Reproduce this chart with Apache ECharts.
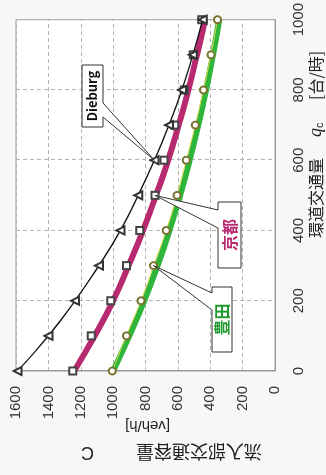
<!DOCTYPE html>
<html>
<head>
<meta charset="utf-8">
<script src="https://cdn.jsdelivr.net/npm/echarts@6/dist/echarts.min.js"></script>
<style>
  html, body { margin: 0; padding: 0; background: #f7f7f5; overflow: hidden; }
  /* the chart is laid out landscape and turned a quarter turn to stand upright */
  #chart {
    position: absolute; left: 0; top: 0;
    width: 475px; height: 326px;
    transform-origin: 0 0;
    transform: translate(0px, 475px) rotate(-90deg);
  }
</style>
</head>
<body>
<div id="chart"></div>
<script>
// circulating flow qc [veh/h]
const qc = [0, 100, 200, 300, 400, 500, 600, 700, 800, 900, 1000];
// entry capacity C [veh/h]
const dieburg    = [1590, 1400, 1235, 1088, 955, 845, 745, 655, 575, 508, 447];
const kyotoCurve = [1240, 1115, 1000, 905, 815, 735, 660, 595, 535, 482, 432];
const kyotoPts   = [1250, 1135, 1015, 918, 835, 742, 685, 620, 560, 505, 452];
const toyotaCurve = [1000, 900, 808, 726, 652, 586, 527, 474, 426, 383, 344];
const toyotaPts   = [1005, 918, 828, 750, 672, 605, 548, 492, 442, 396, 355];
// axis ticks
const xTicks = [0, 200, 400, 600, 800, 1000];
const yTicks = [0, 200, 400, 600, 800, 1000, 1200, 1400, 1600];

const pairs = arr => qc.map((q, i) => [q, arr[i]]);

const chart = echarts.init(document.getElementById('chart'), null, { renderer: 'canvas' });

const labelFont = { fontFamily: 'Liberation Sans, Arial, sans-serif', fontSize: 15, color: '#333', formatter: v => String(v) };
const gridLine = { show: true, lineStyle: { color: '#b4b4b4', type: [4, 3], width: 1 } };

const option = {
  animation: false,
  backgroundColor: '#f7f7f5',
  grid: { left: 104, right: 17, top: 16, bottom: 51, show: true, backgroundColor: '#fff', borderColor: '#9a9a9a', borderWidth: 1 },
  xAxis: {
    type: 'value', min: xTicks[0], max: xTicks[xTicks.length - 1], interval: 200,
    axisLine: { show: true, lineStyle: { color: '#9a9a9a' } },
    axisTick: { show: false },
    axisLabel: Object.assign({ margin: 16 }, labelFont),
    splitLine: gridLine
  },
  yAxis: {
    type: 'value', min: yTicks[0], max: yTicks[yTicks.length - 1], interval: 200,
    axisLine: { show: true, lineStyle: { color: '#9a9a9a' } },
    axisTick: { show: false },
    axisLabel: Object.assign({ margin: 15 }, labelFont),
    splitLine: gridLine
  },
  series: [
    {
      name: 'Dieburg', type: 'line', smooth: true, data: pairs(dieburg), z: 5,
      symbol: 'emptyTriangle', symbolSize: 8,
      itemStyle: { color: '#333', borderWidth: 0.8 },
      lineStyle: { color: '#111', width: 1.3 }
    },
    {
      name: '京都', type: 'line', smooth: true, data: pairs(kyotoCurve), z: 3,
      symbol: 'none', lineStyle: { color: '#b82a70', width: 6 }
    },
    {
      name: '京都 観測', type: 'line', data: pairs(kyotoPts), z: 4,
      symbol: 'emptyRect', symbolSize: 7,
      itemStyle: { color: '#444', borderWidth: 0.8 },
      lineStyle: { width: 0, opacity: 0 }
    },
    {
      name: '豊田', type: 'line', smooth: true, data: pairs(toyotaCurve), z: 3,
      symbol: 'none', lineStyle: { color: '#2eb63c', width: 6 }
    },
    {
      name: '豊田 観測', type: 'line', smooth: true, data: pairs(toyotaPts), z: 4,
      symbol: 'emptyCircle', symbolSize: 7,
      itemStyle: { color: '#7a7430', borderWidth: 0.8 },
      lineStyle: { color: '#e0d84a', width: 1 }
    }
  ]
};
chart.setOption(option);

// callout shape: box with a pointer wedge ending at a data point
function callout(box, baseSide, baseA, baseB, tip) {
  const [x0, y0, x1, y1] = box;
  let pts;
  if (baseSide === 'bottom') {
    pts = [[x0, y0], [x1, y0], [x1, y1], [baseB, y1], tip, [baseA, y1], [x0, y1]];
  } else {
    pts = [[x0, y0], [baseA, y0], tip, [baseB, y0], [x1, y0], [x1, y1], [x0, y1]];
  }
  return { type: 'polygon', shape: { points: pts }, style: { fill: '#fff', stroke: '#333', lineWidth: 1 }, z: 20 };
}
function boxText(box, text, color, size, weight) {
  return {
    type: 'text', x: (box[0] + box[2]) / 2, y: (box[1] + box[3]) / 2, z: 21,
    style: { text: text, fill: color, font: weight + ' ' + size + 'px "Noto Sans CJK JP", "Liberation Sans", sans-serif',
             textAlign: 'center', textVerticalAlign: 'middle', verticalAlign: 'middle' }
  };
}
function label(x, y, text, size, rot, family) {
  return {
    type: 'text', x: x, y: y, rotation: rot || 0, z: 10,
    style: { text: text, fill: '#222', font: size + 'px ' + (family || '"Noto Sans CJK JP", "Liberation Sans", sans-serif'),
             textAlign: 'left', textVerticalAlign: 'middle', verticalAlign: 'middle' }
  };
}

const tipD = chart.convertToPixel({ gridIndex: 0 }, [qc[6], dieburg[6]]);
const tipK = chart.convertToPixel({ gridIndex: 0 }, [qc[5], kyotoPts[5]]);
const tipT = chart.convertToPixel({ gridIndex: 0 }, [qc[3], toyotaPts[3]]);

const boxD = [348, 82, 410, 103];
const boxK = [207, 218, 273, 241];
const boxT = [123, 212, 188, 232];

chart.setOption({
  graphic: [
    callout(boxD, 'bottom', 358, 372, tipD),
    boxText(boxD, 'Dieburg', '#111', 13, 'bold'),
    callout(boxK, 'top', 247, 265, tipK),
    boxText(boxK, '京都', '#b82a70', 16, 'bold'),
    callout(boxT, 'top', 165, 182, tipT),
    boxText(boxT, '豊田', '#1f9a2c', 16, 'bold'),
    // horizontal axis title
    label(237, 316, '環道交通量', 16),
    {
      type: 'text', x: 338, y: 316, z: 10,
      style: {
        text: '{q|q}{c|c}', textVerticalAlign: 'middle', verticalAlign: 'middle',
        rich: {
          q: { fontFamily: 'Liberation Serif, serif', fontStyle: 'italic', fontSize: 18, fill: '#222', color: '#222' },
          c: { fontFamily: 'Liberation Sans, sans-serif', fontSize: 11, fill: '#222', color: '#222', padding: [8, 0, 0, 0] }
        }
      }
    },
    label(375, 316, '[台/時]', 16),
    // vertical axis title
    label(23, 262, '流入部交通容量', 18, Math.PI / 2),
    label(23, 94, 'C', 18, Math.PI / 2, '"Liberation Sans", sans-serif'),
    label(50, 170, '[veh/h]', 15, Math.PI / 2, '"Liberation Sans", sans-serif')
  ]
});
</script>
</body>
</html>
